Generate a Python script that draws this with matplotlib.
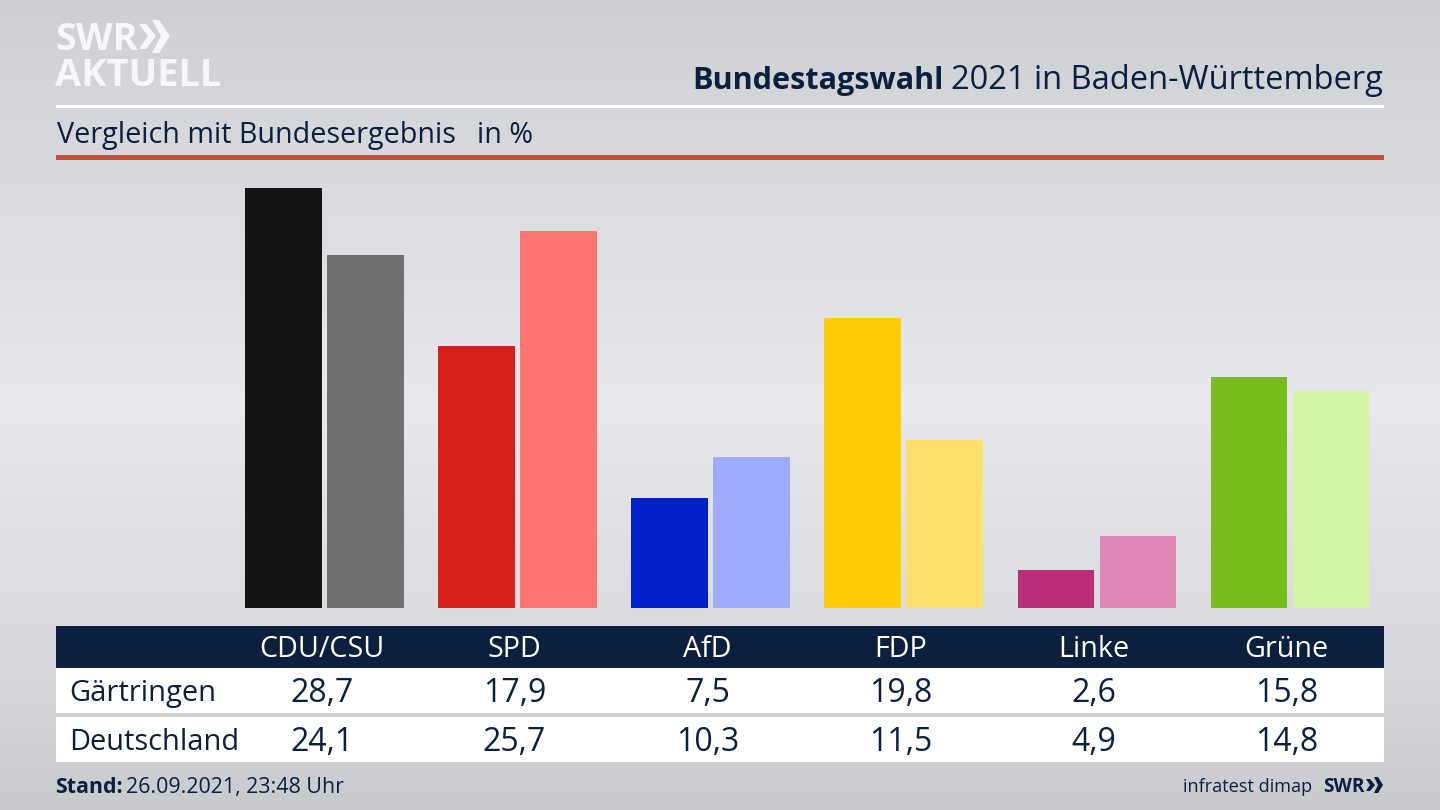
import numpy as np
import matplotlib
matplotlib.use("Agg")
import matplotlib.pyplot as plt
from matplotlib.patches import Rectangle, Polygon

parties = ["CDU/CSU", "SPD", "AfD", "FDP", "Linke", "Grüne"]
gaertringen = [28.7, 17.9, 7.5, 19.8, 2.6, 15.8]
deutschland = [24.1, 25.7, 10.3, 11.5, 4.9, 14.8]
row_labels = ["Gärtringen", "Deutschland"]
colors_local = ["#141414", "#d81f1c", "#0220c8", "#ffcc0a", "#bb2f78", "#78bd1c"]
colors_national = ["#72716f", "#ff7370", "#9eabff", "#fee06e", "#df88b6", "#d2f5a6"]

W, H = 1440, 810
NAVY = "#0b1f3f"
FONT = ["Open Sans", "DejaVu Sans"]
plt.rcParams["font.family"] = FONT

fig = plt.figure(figsize=(W / 100, H / 100), dpi=100)

# background
bg = fig.add_axes([0, 0, 1, 1], zorder=0)
bg.axis("off")
yy = np.linspace(0, 1, 256)
stops_y = [0, 0.2, 0.5, 0.8, 1]
stops_v = [0.815, 0.855, 0.915, 0.855, 0.795]
grad = np.interp(yy, stops_y, stops_v)[:, None]
rgb = np.dstack([grad * 0.99, grad * 0.998, grad * 1.012]).clip(0, 1)
bg.imshow(rgb, aspect="auto", extent=[0, W, H, 0], interpolation="bicubic")
bg.set_xlim(0, W)
bg.set_ylim(H, 0)

# bars
BASE_Y, TOP_Y = 608, 160
PX_PER_UNIT = 14.65
GROUP0, STEP = 324.3, 193.15
ax = fig.add_axes([0, 1 - BASE_Y / H, 1, (BASE_Y - TOP_Y) / H], zorder=1)
ax.patch.set_alpha(0)
ax.axis("off")
ax.set_xlim(-GROUP0 / STEP, (W - GROUP0) / STEP)
ax.set_ylim(0, (BASE_Y - TOP_Y) / PX_PER_UNIT)
x = np.arange(len(parties))
bw = 76.6 / STEP
off = 41 / STEP
ax.bar(x - off, gaertringen, bw, color=colors_local)
ax.bar(x + off, deutschland, bw, color=colors_national)

# overlay in pixel coordinates
ov = fig.add_axes([0, 0, 1, 1], zorder=2)
ov.patch.set_alpha(0)
ov.axis("off")
ov.set_xlim(0, W)
ov.set_ylim(H, 0)


def px(size):
    return size * 0.72


def rect(x0, y0, x1, y1, c):
    ov.add_patch(Rectangle((x0, y0), x1 - x0, y1 - y0, fc=c, ec="none"))


L, R = 56, 1384
rect(L, 105, R, 107.5, "white")
rect(L, 155, R, 160, "#c9503d")
rect(L, 626, R, 668, NAVY)
rect(L, 668, R, 713, "white")
rect(L, 717, R, 762, "white")

# logo
LOGO = "#f6f7f8"
ov.text(55, 50.5, "SWR", color=LOGO, fontsize=px(38), fontweight="bold",
        va="baseline", ha="left", family=["Liberation Sans Narrow", "Open Sans"])
ov.text(55, 86.5, "AKTUELL", color=LOGO, fontsize=px(38), fontweight="bold",
        va="baseline", ha="left", family="Open Sans")
ov.add_patch(Polygon([(139, 24), (146, 24), (156, 36), (146, 49), (139, 49), (148, 36)],
                     fc=LOGO, ec="none"))
ov.add_patch(Polygon([(152, 20), (159, 20), (170, 36), (159, 53), (152, 53), (161, 36)],
                     fc=LOGO, ec="none"))

# title
ov.text(1383, 89, "2021 in Baden-Württemberg", color=NAVY, fontsize=px(32.6),
        ha="right", va="baseline", family="Open Sans")
ov.text(944, 89, "Bundestagswahl", color=NAVY, fontsize=px(30.7), fontweight="bold",
        ha="right", va="baseline", family="Open Sans")
ov.text(57, 143, "Vergleich mit Bundesergebnis", color=NAVY, fontsize=px(28.8),
        ha="left", va="baseline")
ov.text(477, 143, "in %", color=NAVY, fontsize=px(28.8), ha="left", va="baseline")

# table
for i, p in enumerate(parties):
    cx = 321.5 + 193 * i
    ov.text(cx, 657, p, color="white", fontsize=px(28.8), ha="center", va="baseline")
    ov.text(cx, 702, f"{gaertringen[i]:.1f}".replace(".", ","), color=NAVY,
            fontsize=px(32), ha="center", va="baseline")
    ov.text(cx, 751, f"{deutschland[i]:.1f}".replace(".", ","), color=NAVY,
            fontsize=px(32), ha="center", va="baseline")
ov.text(69, 701, row_labels[0], color=NAVY, fontsize=px(29), ha="left", va="baseline")
ov.text(69, 750, row_labels[1], color=NAVY, fontsize=px(29), ha="left", va="baseline")

# footer
ov.text(55, 793, "Stand:", color=NAVY, fontsize=px(21.4), fontweight="bold", ha="left", va="baseline")
ov.text(126, 793, "26.09.2021, 23:48 Uhr", color=NAVY, fontsize=px(21.4), ha="left", va="baseline")
ov.text(1312, 792, "infratest dimap", color=NAVY, fontsize=px(18.1), ha="right", va="baseline")
ov.text(1323, 792, "SWR", color=NAVY, fontsize=px(19), fontweight="bold", ha="left", va="baseline",
        family=["Liberation Sans Narrow", "Open Sans"])
for dx, h in ((0, 6), (8, 8)):
    ov.add_patch(Polygon([(1366 + dx, 785 - h), (1370 + dx, 785 - h), (1375 + dx, 785),
                          (1370 + dx, 785 + h), (1366 + dx, 785 + h), (1370 + dx, 785)],
                         fc=NAVY, ec="none"))

fig.savefig("out.png", dpi=100)
